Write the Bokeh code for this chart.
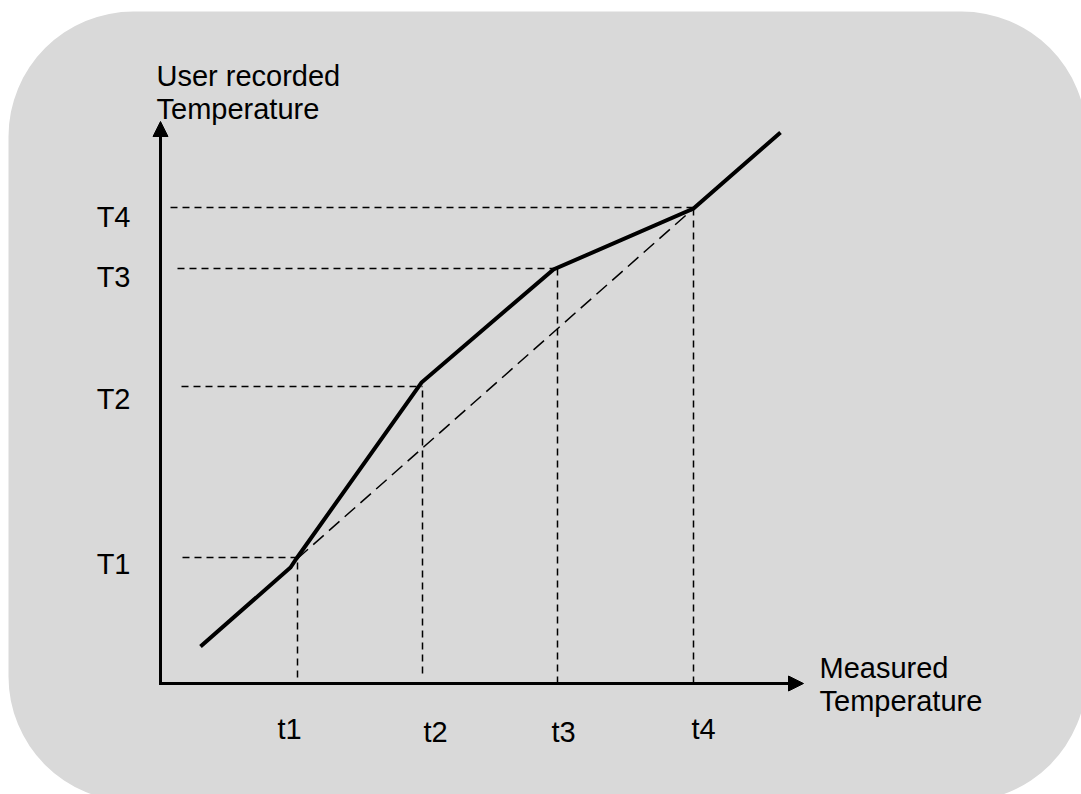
from bokeh.plotting import figure
from bokeh.models import Range1d, BoxAnnotation, Arrow, NormalHead
from bokeh.core.properties import value
from bokeh.embed import file_html
from bokeh.resources import INLINE

# ---- data (schematic units; origin at the axes corner) ----
tick_names_x = ["t1", "t2", "t3", "t4"]
t_vals = [137, 262, 397, 533]            # measured temperature breakpoints
t_dash_bottom = [6, 10, 0, 0]            # where the vertical guides stop
t_label_x = [129, 275, 403, 543]
t_label_y = [-45, -48, -48, -45]

tick_names_y = ["T1", "T2", "T3", "T4"]
T_vals = [126, 297, 415, 476]            # user recorded breakpoints
T_dash_left = [22, 21, 17, 10]
T_label_y = [120, 285, 407, 467]

curve_x = [40, 130, 136, 261, 393, 533, 620]
curve_y = [37, 116, 125, 301, 414, 475, 551]

ideal_x = [137, 533]
ideal_y = [125, 475]

y_title = ["User recorded", "Temperature"]
x_title = ["Measured", "Temperature"]

FONT = "Liberation Sans"

p = figure(width=1081, height=794, output_backend="svg", toolbar_location=None,
           x_range=Range1d(-160, 921), y_range=Range1d(-111, 683),
           min_border=0, min_border_left=0, min_border_right=0,
           min_border_top=0, min_border_bottom=0)
p.axis.visible = False
p.grid.visible = False
p.outline_line_color = None
p.background_fill_color = "white"
p.border_fill_color = "white"

# rounded grey panel
p.add_layout(BoxAnnotation(left=-152, right=926, top=672, bottom=-118,
                           border_radius=125, fill_color="#d9d9d9", fill_alpha=1,
                           line_color=None, level="underlay"))

# guides
p.multi_line(xs=[[t, t] for t in t_vals],
             ys=[[b, T] for b, T in zip(t_dash_bottom, T_vals)],
             line_color="black", line_width=1.5, line_dash="7 5")
p.multi_line(xs=[[l, t] for l, t in zip(T_dash_left, t_vals)],
             ys=[[T, T] for T in T_vals],
             line_color="black", line_width=1.5, line_dash="7 5")
p.line(ideal_x, ideal_y, line_color="black", line_width=1.5, line_dash="14 7")

# measured curve
p.line(curve_x, curve_y, line_color="black", line_width=4, line_join="miter")

# axes with arrows
p.add_layout(Arrow(x_start=0, y_start=-1.5, x_end=0, y_end=562,
                   line_width=3, line_color="black",
                   end=NormalHead(size=15, fill_color="black", line_color="black", line_width=1)))
p.add_layout(Arrow(x_start=-1.5, y_start=0, x_end=643, y_end=0,
                   line_width=3, line_color="black",
                   end=NormalHead(size=15, fill_color="black", line_color="black", line_width=1)))

# labels
p.text(x=t_label_x, y=t_label_y, text=tick_names_x, text_align="center",
       text_baseline="alphabetic", text_font=value(FONT), text_font_size="29px",
       text_color="black")
p.text(x=[-30] * 4, y=T_label_y, text=tick_names_y, text_align="right",
       text_baseline="alphabetic", text_font=value(FONT), text_font_size="29px",
       text_color="black")
p.text(x=[-4, -4], y=[608, 575], text=y_title, text_align="left",
       text_baseline="alphabetic", text_font=value(FONT), text_font_size="29px",
       text_color="black")
p.text(x=[659, 659], y=[16, -17], text=x_title, text_align="left",
       text_baseline="alphabetic", text_font=value(FONT), text_font_size="29px",
       text_color="black")

open("out.html", "w").write(file_html(p, INLINE))
